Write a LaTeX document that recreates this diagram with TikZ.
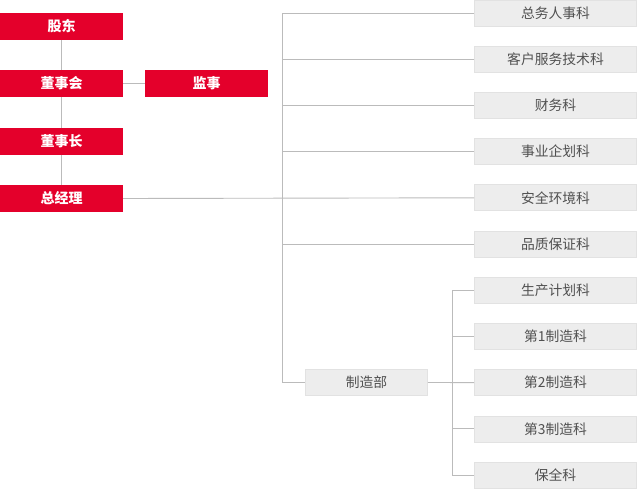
\documentclass[tikz,border=0pt]{standalone}
\usepackage{fontspec}
\setmainfont{Noto Sans CJK SC}
\usetikzlibrary{positioning}
\definecolor{orgred}{HTML}{E4002B}
\definecolor{orggray}{HTML}{EDEDED}
\definecolor{orgedge}{HTML}{E2E2E2}
\definecolor{orgtext}{HTML}{505050}
\definecolor{orgline}{HTML}{BBBBBB}

\tikzset{
    redbox/.style={fill=orgred, text=white, inner sep=0pt,
        minimum width=123pt, minimum height=27pt,
        font=\bfseries\fontsize{14}{14}\selectfont},
    graybox/.style={fill=orggray, draw=orgedge, line width=0.6pt, text=orgtext,
        inner sep=0pt, minimum width=162pt, minimum height=26pt,
        font=\fontsize{13.8}{14}\selectfont},
    link/.style={draw=orgline, line width=0.9pt}
}

\begin{document}
\begin{tikzpicture}[x=1pt, y=-1pt]
        \useasboundingbox (0, 0) rectangle (637, 489);

        \node[redbox] (gd)  at (61.5,  26.5) {股东};
        \node[redbox] (dsh) at (61.5,  83.5) {董事会};
        \node[redbox] (js)  at (206.5, 83.5) {监事};
        \node[redbox] (dsz) at (61.5, 141.5) {董事长};
        \node[redbox] (zjl) at (61.5, 198.5) {总经理};

        \foreach \name [count=\i] in {总务人事科, 客户服务技术科, 财务科, 事业企划科,
                                      安全环境科, 品质保证科, 生产计划科, 第1制造科,
                                      第2制造科, 第3制造科, 保全科}
            \node[graybox] (k\i) at (555.5, {13 + 46.2*(\i-1)}) {\name};

        \node[graybox, minimum width=122pt] (zzb) at (366.5, 382.5) {制造部};

        \coordinate (trunk)    at (282, 0);
        \coordinate (subtrunk) at (452, 0);

        \draw[link] (gd)  -- (dsh);
        \draw[link] (dsh) -- (dsz);
        \draw[link] (dsz) -- (zjl);
        \draw[link] (dsh) -- (js);

        \draw[link] (zjl.east) -- (k5.west);
        \draw[link] (k1.west) -- (k1.west -| trunk) |- (zzb.west);
        \foreach \i in {2, 3, 4, 6}
            \draw[link] (k\i.west) -- (k\i.west -| trunk);

        \draw[link] (zzb.east) -- (k9.west);
        \draw[link] (k7.west) -- (k7.west -| subtrunk) |- (k11.west);
        \foreach \i in {8, 10}
            \draw[link] (k\i.west) -- (k\i.west -| subtrunk);
    \end{tikzpicture}
\end{document}
